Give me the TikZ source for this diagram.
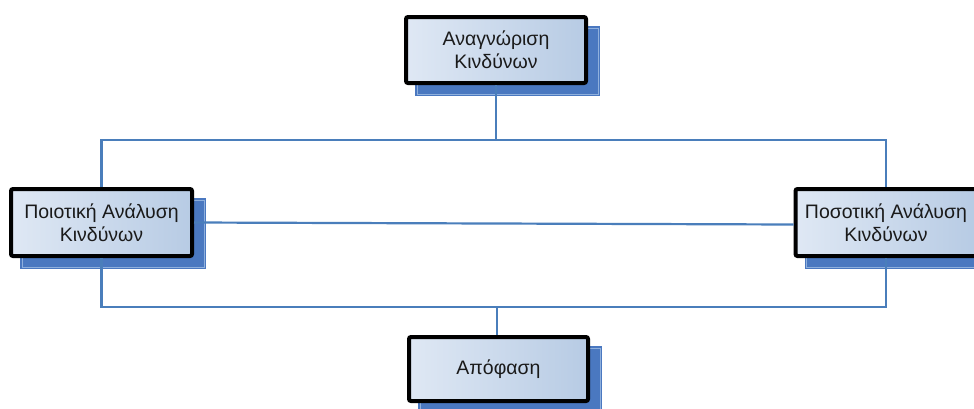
\documentclass[tikz,border=0pt]{standalone}
\usepackage{fontspec}
\setmainfont{Liberation Sans}
\usetikzlibrary{backgrounds,calc}

\definecolor{linkblue}{HTML}{4A7EBB}
\definecolor{shadowblue}{HTML}{4A78C0}
\definecolor{shadowline}{HTML}{8FB0DD}
\definecolor{boxlight}{HTML}{DFE8F4}
\definecolor{boxdark}{HTML}{B7CBE4}
\definecolor{textgray}{HTML}{1A1A1A}

\tikzset{
  stagebox/.style={
    draw=black, line width=4pt, rounded corners=2pt,
    shading=axis, left color=boxlight, right color=boxdark,
    align=center, text=textgray,
    font=\fontsize{19.5}{23}\selectfont,
    inner sep=0pt
  },
  link/.style={draw=linkblue, line width=2.2pt}
}

\begin{document}
\begin{tikzpicture}[x=1pt,y=-1pt]
  \useasboundingbox (0,0) rectangle (974,408);

  % process stages
  \node[stagebox, minimum width=180pt, minimum height=66pt] (ident) at (496,50)
    {Αναγνώριση\\Κινδύνων};
  \node[stagebox, minimum width=181pt, minimum height=67pt] (qual) at (101.5,222.5)
    {Ποιοτική Ανάλυση\\Κινδύνων};
  \node[stagebox, minimum width=181pt, minimum height=67pt] (quant) at (886,222.5)
    {Ποσοτική Ανάλυση\\Κινδύνων};
  \node[stagebox, minimum width=179pt, minimum height=64pt] (decide) at (498.5,369)
    {Απόφαση};

  % offset shadows behind the stages
  \begin{scope}[on background layer]
    \foreach \n in {ident,qual,quant,decide} {
      \fill[shadowblue] ($(\n.north west)+(11,11)$) rectangle ($(\n.south east)+(12,11)$);
      \draw[shadowline, line width=0.6pt] ($(\n.north west)+(13,13)$) rectangle ($(\n.south east)+(10,9)$);
    }
  \end{scope}

  % connectors
  \coordinate (upper) at (496,140);
  \coordinate (lower) at (497,307);
  \draw[link] (ident.south) -- (upper);
  \draw[link] (qual.north) |- (upper) -| (quant.north);
  \draw[link] (qual.east) -- ($(quant.west)+(0,2)$);
  \draw[link] (qual.south) |- (lower) -| (quant.south);
  \draw[link] (lower) -- (decide.north -| lower);
\end{tikzpicture}
\end{document}
